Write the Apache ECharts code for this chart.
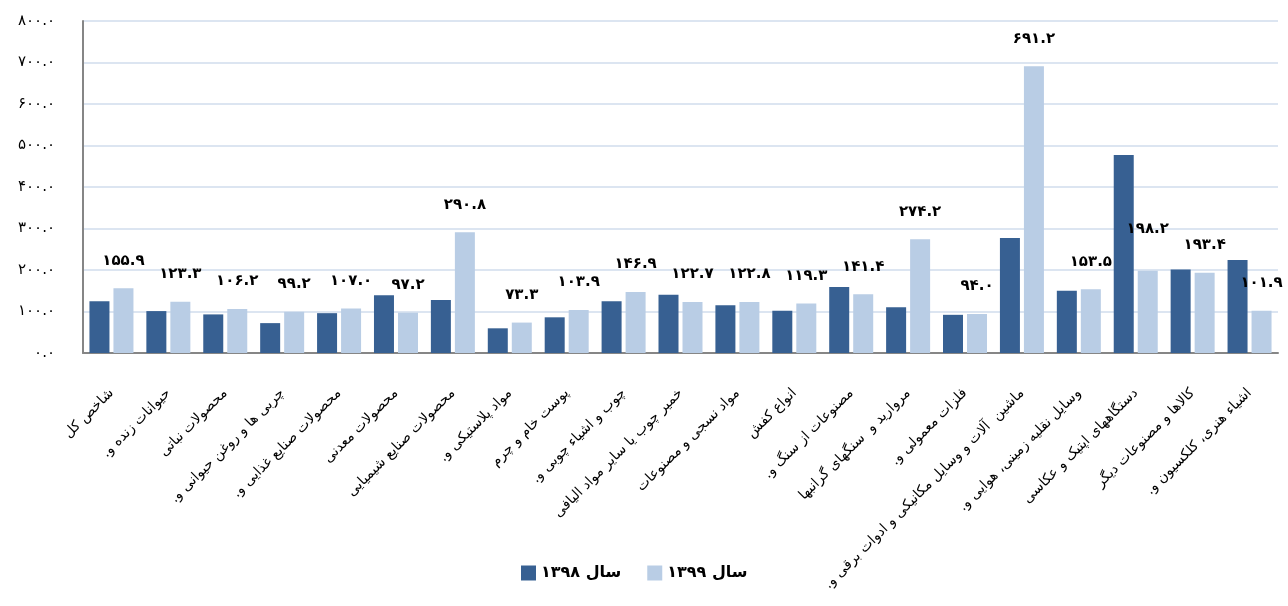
<!DOCTYPE html>
<html><head><meta charset="utf-8">
<script src="https://cdn.jsdelivr.net/npm/echarts@6/dist/echarts.min.js"></script>
<style>html,body{margin:0;padding:0;background:#fff}#c{width:1288px;height:606px}</style>
</head><body><div id="c"></div>
<script>
const categories = [
  'شاخص کل',
  'حیوانات زنده و.',
  'محصولات نباتی',
  'چربی ها و روغن حیوانی و.',
  'محصولات صنایع غذایی و.',
  'محصولات معدنی',
  'محصولات صنایع شیمیایی',
  'مواد پلاستیکی و.',
  'پوست خام و چرم',
  'چوب و اشیاء چوبی و.',
  'خمیر چوب یا سایر مواد الیافی',
  'مواد نسجی و مصنوعات',
  'انواع کفش',
  'مصنوعات از سنگ و.',
  'مروارید و  سنگهای گرانبها',
  'فلزات معمولی و.',
  'ماشین  آلات و وسایل مکانیکی و ادوات برقی و.',
  'وسایل نقلیه زمینی، هوایی و.',
  'دستگاههای اپتیک و عکاسی',
  'کالاها و مصنوعات دیگر',
  'اشیاء هنری، کلکسیون و.'
];
const series1398 = [125, 101, 93, 72, 96, 139, 128, 59.5, 86, 124.5, 140.5, 115, 102, 159, 110, 92, 277, 150, 477, 201.5, 224];
const series1399 = [155.9, 123.3, 106.2, 99.2, 107.0, 97.2, 290.8, 73.3, 103.9, 146.9, 122.7, 122.8, 119.3, 141.4, 274.2, 94.0, 691.2, 153.5, 198.2, 193.4, 101.9];
const seriesNames = ['سال ۱۳۹۸', 'سال ۱۳۹۹'];
const yMin = 0, yMax = 800, yStep = 100;

const FA = '۰۱۲۳۴۵۶۷۸۹';
function fa(s){ return String(s).replace(/\d/g, d => FA[+d]); }
const FONT = 'DejaVu Sans';

const chart = echarts.init(document.getElementById('c'));
chart.setOption({
  animation: false,
  backgroundColor: '#fff',
  grid: { left: 83, right: 10, top: 21, bottom: 253 },
  legend: {
    bottom: 20, left: 516,
    itemWidth: 15, itemHeight: 15, itemGap: 26,
    icon: 'rect',
    textStyle: { fontFamily: FONT, fontSize: 16, fontWeight: 'bold', color: '#000' },
    data: seriesNames
  },
  xAxis: {
    type: 'category',
    data: categories,
    axisLine: { lineStyle: { color: '#868686', width: 2 } },
    axisTick: { show: false },
    axisLabel: {
      interval: 0, rotate: 45, margin: 38,
      fontFamily: FONT, fontSize: 14, color: '#000',
      formatter: v => '\u200F' + v + '\u200F'
    }
  },
  yAxis: {
    type: 'value', min: yMin, max: yMax, interval: yStep,
    axisLine: { show: true, lineStyle: { color: '#868686', width: 2 } },
    axisTick: { show: false },
    splitLine: { lineStyle: { color: '#DCE5F1', width: 2 } },
    axisLabel: {
      margin: 28, fontFamily: FONT, fontSize: 15, color: '#000',
      formatter: v => fa(v.toFixed(1))
    }
  },
  series: [
    {
      name: seriesNames[0], type: 'bar', data: series1398,
      barWidth: 20, barGap: '20%',
      itemStyle: { color: '#376092' }
    },
    {
      name: seriesNames[1], type: 'bar',
      data: series1399.map((v, i) => i === 18 ? { value: v, label: { distance: 34 } } : v),
      barWidth: 20, barGap: '20%',
      itemStyle: { color: '#B9CDE5' },
      label: {
        show: true, position: 'top', distance: 20,
        fontFamily: FONT, fontSize: 15, fontWeight: 'bold', color: '#000',
        formatter: p => fa(Number(p.value).toFixed(1))
      }
    }
  ]
});
</script>
</body></html>
